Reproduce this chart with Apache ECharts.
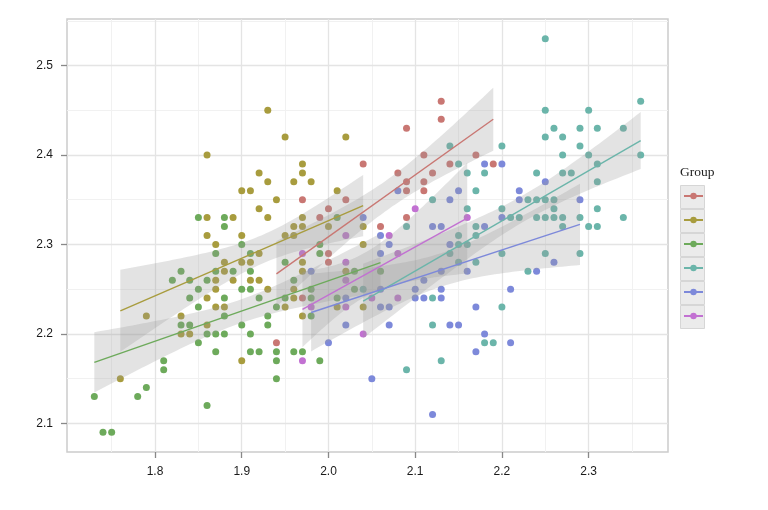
<!DOCTYPE html>
<html><head><meta charset="utf-8">
<script src="https://cdn.jsdelivr.net/npm/echarts@6/dist/echarts.min.js"></script>
<style>html,body{margin:0;padding:0;background:#fff}#c{width:768px;height:510px}</style>
</head><body><div id="c"></div>
<script>
// ---- data ----
const groupNames = ['g1', 'g2', 'g3', 'g4', 'g5', 'g6'];
const groupColors = ['#C97773', '#A89C3E', '#6DAA5B', '#6BB5AA', '#7D89DA', '#C271D2'];

const redPts = [[1.94,2.19],[1.97,2.24],[2.00,2.28],[2.00,2.29],[1.99,2.33],[2.00,2.34],[1.97,2.35],[2.02,2.35],[2.04,2.39],[2.06,2.32],[2.09,2.33],[2.09,2.36],[2.09,2.37],[2.08,2.38],[2.09,2.43],[2.11,2.36],[2.11,2.37],[2.11,2.40],[2.12,2.38],[2.13,2.44],[2.13,2.46],[2.14,2.39],[2.17,2.40],[2.19,2.39]];
const olivePts = [[1.76,2.15],[1.79,2.22],[1.83,2.22],[1.83,2.20],[1.84,2.20],[1.86,2.21],[1.86,2.24],[1.87,2.23],[1.88,2.23],[1.87,2.25],[1.87,2.26],[1.89,2.26],[1.91,2.26],[1.92,2.26],[1.88,2.27],[1.88,2.28],[1.90,2.28],[1.91,2.28],[1.92,2.29],[1.93,2.25],[1.90,2.17],[1.87,2.30],[1.86,2.31],[1.90,2.31],[1.86,2.33],[1.89,2.33],[1.92,2.34],[1.90,2.36],[1.91,2.36],[1.92,2.38],[1.86,2.40],[1.93,2.45],[1.95,2.42],[2.02,2.42],[1.97,2.39],[1.97,2.38],[1.93,2.37],[1.96,2.37],[1.98,2.37],[2.01,2.36],[1.94,2.35],[1.93,2.33],[1.97,2.33],[1.96,2.32],[1.97,2.32],[2.00,2.32],[2.04,2.32],[1.95,2.31],[1.96,2.31],[2.04,2.30],[1.97,2.28],[1.97,2.27],[2.02,2.27],[1.96,2.25],[1.96,2.24],[1.95,2.23],[2.01,2.23],[1.97,2.22],[2.04,2.23]];
const greenPts = [[1.73,2.13],[1.74,2.09],[1.75,2.09],[1.78,2.13],[1.79,2.14],[1.81,2.16],[1.81,2.17],[1.82,2.26],[1.83,2.27],[1.83,2.21],[1.84,2.21],[1.84,2.24],[1.84,2.26],[1.85,2.19],[1.85,2.23],[1.85,2.25],[1.85,2.33],[1.86,2.12],[1.86,2.20],[1.86,2.26],[1.87,2.18],[1.87,2.20],[1.87,2.27],[1.87,2.29],[1.88,2.20],[1.88,2.22],[1.88,2.24],[1.88,2.32],[1.88,2.33],[1.89,2.27],[1.90,2.21],[1.90,2.25],[1.90,2.30],[1.91,2.18],[1.91,2.20],[1.91,2.25],[1.91,2.27],[1.91,2.29],[1.92,2.18],[1.92,2.24],[1.93,2.21],[1.93,2.22],[1.94,2.15],[1.94,2.17],[1.94,2.18],[1.94,2.23],[1.95,2.24],[1.95,2.28],[1.96,2.18],[1.96,2.26],[1.97,2.18],[1.98,2.22],[1.98,2.24],[1.98,2.25],[1.99,2.17],[1.99,2.29],[1.99,2.30],[2.01,2.24],[2.01,2.33],[2.03,2.25],[2.03,2.27],[2.06,2.27]];
const tealPts = [[2.04,2.25],[2.09,2.16],[2.09,2.32],[2.12,2.21],[2.12,2.24],[2.12,2.35],[2.13,2.17],[2.14,2.29],[2.14,2.41],[2.15,2.28],[2.15,2.30],[2.15,2.31],[2.15,2.39],[2.16,2.30],[2.16,2.34],[2.16,2.38],[2.17,2.28],[2.17,2.31],[2.17,2.32],[2.17,2.36],[2.18,2.19],[2.18,2.38],[2.19,2.19],[2.20,2.23],[2.20,2.29],[2.20,2.34],[2.20,2.41],[2.21,2.33],[2.22,2.33],[2.23,2.27],[2.23,2.35],[2.24,2.33],[2.24,2.35],[2.24,2.38],[2.25,2.29],[2.25,2.33],[2.25,2.35],[2.25,2.42],[2.25,2.45],[2.25,2.53],[2.26,2.33],[2.26,2.34],[2.26,2.35],[2.26,2.43],[2.27,2.32],[2.27,2.33],[2.27,2.38],[2.27,2.40],[2.27,2.42],[2.28,2.38],[2.29,2.29],[2.29,2.33],[2.29,2.41],[2.29,2.43],[2.30,2.32],[2.30,2.40],[2.30,2.45],[2.31,2.32],[2.31,2.34],[2.31,2.37],[2.31,2.39],[2.31,2.43],[2.34,2.33],[2.34,2.43],[2.36,2.40],[2.36,2.46]];
const bluePts = [[1.98,2.27],[2.00,2.19],[2.02,2.21],[2.02,2.24],[2.04,2.33],[2.05,2.15],[2.06,2.23],[2.06,2.25],[2.06,2.29],[2.06,2.31],[2.07,2.21],[2.07,2.23],[2.07,2.30],[2.08,2.36],[2.10,2.24],[2.10,2.25],[2.11,2.24],[2.11,2.26],[2.12,2.11],[2.12,2.32],[2.13,2.24],[2.13,2.25],[2.13,2.27],[2.13,2.32],[2.14,2.21],[2.14,2.30],[2.14,2.35],[2.15,2.21],[2.15,2.36],[2.16,2.27],[2.17,2.18],[2.17,2.23],[2.18,2.20],[2.18,2.32],[2.18,2.39],[2.20,2.33],[2.20,2.39],[2.21,2.19],[2.21,2.25],[2.22,2.35],[2.22,2.36],[2.24,2.27],[2.25,2.37],[2.26,2.28],[2.29,2.35]];
const magentaPts = [[1.97,2.17],[1.97,2.29],[1.98,2.23],[2.02,2.23],[2.02,2.26],[2.02,2.28],[2.02,2.31],[2.04,2.20],[2.05,2.24],[2.07,2.31],[2.08,2.24],[2.08,2.29],[2.10,2.34],[2.16,2.33]];

const xTicks = [1.8, 1.9, 2.0, 2.1, 2.2, 2.3];
const yTicks = [2.1, 2.2, 2.3, 2.4, 2.5];
const xMinor = [1.75, 1.85, 1.95, 2.05, 2.15, 2.25, 2.35];
const yMinor = [2.15, 2.25, 2.35, 2.45, 2.55];
const xRange = [1.6985, 2.3915];
const yRange = [2.068, 2.552];

const groups = [redPts, olivePts, greenPts, tealPts, bluePts, magentaPts];

// ---- linear fit with 95% confidence band (as geom_smooth(method='lm')) ----
function fit(pts) {
  const n = pts.length;
  let sx = 0, sy = 0;
  pts.forEach(p => { sx += p[0]; sy += p[1]; });
  const mx = sx / n, my = sy / n;
  let sxx = 0, sxy = 0;
  pts.forEach(p => { sxx += (p[0]-mx)*(p[0]-mx); sxy += (p[0]-mx)*(p[1]-my); });
  const b = sxy / sxx, a = my - b * mx;
  let sse = 0;
  pts.forEach(p => { const r = p[1] - (a + b*p[0]); sse += r*r; });
  const df = n - 2;
  const s = Math.sqrt(sse / df);
  const t = 1.96 + 2.37/df + 2.8/(df*df);
  const xs = pts.map(p => p[0]);
  const x0 = Math.min(...xs), x1 = Math.max(...xs);
  const up = [], lo = [];
  const N = 60;
  for (let i = 0; i <= N; i++) {
    const x = x0 + (x1 - x0) * i / N;
    const yh = a + b * x;
    const se = s * Math.sqrt(1/n + (x-mx)*(x-mx)/sxx);
    up.push([x, yh + t*se]);
    lo.push([x, yh - t*se]);
  }
  return { line: [[x0, a + b*x0], [x1, a + b*x1]], up, lo };
}
const fits = groups.map(fit);

const gridLines = [];
xMinor.forEach(v => gridLines.push({ xAxis: v, lineStyle: { color: '#f1f1f1', width: 1, type: 'solid' } }));
yMinor.forEach(v => gridLines.push({ yAxis: v, lineStyle: { color: '#f1f1f1', width: 1, type: 'solid' } }));
xTicks.forEach(v => gridLines.push({ xAxis: v, lineStyle: { color: '#e4e4e4', width: 1.3, type: 'solid' } }));
yTicks.forEach(v => gridLines.push({ yAxis: v, lineStyle: { color: '#e4e4e4', width: 1.3, type: 'solid' } }));

const series = [];
// line series first (used for legend icons)
fits.forEach((f, i) => {
  series.push({
    name: groupNames[i], type: 'line', data: f.line, z: 5,
    symbol: 'circle', symbolSize: 6, showSymbol: false, silent: true,
    lineStyle: { color: groupColors[i], width: 1.4 },
    itemStyle: { color: groupColors[i] }
  });
});
groups.forEach((pts, i) => {
  series.push({
    name: groupNames[i] + '_pts', type: 'scatter', data: pts, z: 2, silent: true,
    symbol: 'circle', symbolSize: 7,
    itemStyle: { color: groupColors[i], opacity: 1 }
  });
});
series.push({
  type: 'custom', name: 'bands', z: 3, silent: true,
  data: fits.map((f, i) => [i]),
  encode: { x: -1, y: -1 },
  renderItem: function (params, api) {
    const f = fits[api.value(0)];
    const pts = f.up.map(p => api.coord(p)).concat(f.lo.slice().reverse().map(p => api.coord(p)));
    return { type: 'polygon', shape: { points: pts }, style: { fill: 'rgba(153,153,153,0.28)' } };
  }
});
series.push({
  type: 'line', name: 'grid', data: [], z: 0, silent: true,
  markLine: { silent: true, z: 0, symbol: 'none', label: { show: false }, animation: false, data: gridLines }
});

const option = {
  animation: false,
  backgroundColor: '#ffffff',
  title: {
    text: 'Group', left: 680, top: 165, padding: 0,
    textStyle: { fontFamily: 'Liberation Serif', fontSize: 13.5, fontWeight: 'normal', color: '#222' }
  },
  legend: {
    data: groupNames, orient: 'vertical', left: 683, top: 192, padding: 0,
    itemWidth: 19, itemHeight: 8, itemGap: 16.8,
    formatter: () => '', textStyle: { fontSize: 8 }, selectedMode: false
  },
  graphic: groupNames.map((g, i) => ({
    type: 'rect', left: 680, top: 185 + 24 * i, z: 1,
    shape: { width: 24, height: 23 },
    style: { fill: '#ebebeb', stroke: '#d6d6d6', lineWidth: 1 }
  })),
  grid: { left: 67, right: 100, top: 19, bottom: 58, show: true, borderColor: '#cccccc', borderWidth: 1.5, backgroundColor: '#ffffff' },
  xAxis: {
    type: 'value', min: xRange[0], max: xRange[1],
    axisLine: { show: false },
    splitLine: { show: false },
    axisTick: { show: true, customValues: xTicks, length: 6, lineStyle: { color: '#888', width: 1.3 } },
    axisLabel: { customValues: xTicks, margin: 14, color: '#1a1a1a', fontSize: 12, fontFamily: 'Liberation Sans', formatter: v => v.toFixed(1) }
  },
  yAxis: {
    type: 'value', min: yRange[0], max: yRange[1],
    axisLine: { show: false },
    splitLine: { show: false },
    axisTick: { show: true, customValues: yTicks, length: 6, lineStyle: { color: '#888', width: 1.3 } },
    axisLabel: { customValues: yTicks, margin: 14, color: '#1a1a1a', fontSize: 12, fontFamily: 'Liberation Sans', formatter: v => v.toFixed(1) }
  },
  series: series
};
const chart = echarts.init(document.getElementById('c'));
chart.setOption(option);
</script></body></html>
